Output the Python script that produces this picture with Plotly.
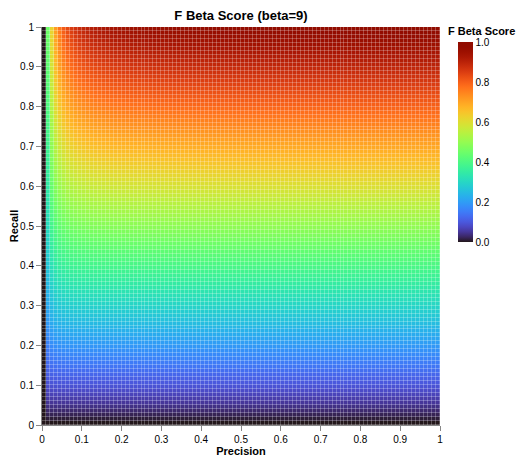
import numpy as np
import plotly.graph_objects as go

beta = 9
precision = [round(i * 0.01, 2) for i in range(100)]
recall = [round(i * 0.01, 2) for i in range(100)]

P = np.array(precision)[None, :]
R = np.array(recall)[:, None]
b2 = beta ** 2
den = b2 * P + R
with np.errstate(divide="ignore", invalid="ignore"):
    F = np.where(den > 0, (1 + b2) * P * R / den, 0.0)

def turbo(t):
    r = 34.61 + t*(1172.33 - t*(10793.56 - t*(33300.12 - t*(38394.49 - t*14825.05))))
    g = 23.31 + t*(557.33 + t*(1225.33 - t*(3574.96 - t*(1073.77 + t*707.56))))
    b = 27.2 + t*(3211.1 - t*(15327.97 - t*(27814 - t*(22569.18 - t*6838.66))))
    c = [int(max(0, min(255, round(v)))) for v in (r, g, b)]
    return "rgb(%d,%d,%d)" % tuple(c)

cscale = [[i / 40, turbo(i / 40)] for i in range(41)]

tickvals = [round(i * 0.1, 1) for i in range(11)]
ticktext = ["0"] + [str(v) for v in tickvals[1:-1]] + ["1"]

W, H = 524, 455
L, T, PW, PH = 34, 19, 398, 398

fig = go.Figure(go.Heatmap(
    x=[p + 0.005 for p in precision], y=[r + 0.005 for r in recall], z=F,
    colorscale=cscale, zmin=0, zmax=1, xgap=0.25, ygap=0.25,
    colorbar=dict(
        x=(450 - L) / PW, xanchor="left", y=1 - (34 - T) / PH, yanchor="top",
        len=200, lenmode="pixels", thickness=15, outlinewidth=0, ypad=0, xpad=0,
        tickvals=[0, 0.2, 0.4, 0.6, 0.8, 1.0],
        ticktext=["0.0", "0.2", "0.4", "0.6", "0.8", "1.0"],
        ticks="", tickfont=dict(size=10),
    ),
))
axis = dict(range=[0, 1], tickvals=tickvals, ticktext=ticktext, ticks="outside",
            ticklen=5, tickcolor="#888", tickfont=dict(size=10), showgrid=False,
            zeroline=False, showline=True, linecolor="#888", linewidth=1, automargin=False)
fig.update_xaxes(**axis, title=dict(text="<b>Precision</b>", font=dict(size=11), standoff=2))
fig.update_yaxes(**axis, title=dict(text="<b>Recall</b>", font=dict(size=11), standoff=8))
fig.add_annotation(text="<b>F Beta Score</b>", xref="paper", yref="paper",
                   x=(438 - L) / PW, y=1 - (23 - T) / PH, xanchor="left", yanchor="middle",
                   showarrow=False, font=dict(size=11))
fig.update_layout(
    width=W, height=H, margin=dict(l=L, r=W - L - PW, t=T, b=H - T - PH, autoexpand=False),
    title=dict(text="<b>F Beta Score (beta=9)</b>", x=(233) / W, xanchor="center",
               y=1 - 7 / H, yanchor="middle", font=dict(size=13)),
    font=dict(family="Liberation Sans, Arial", color="black"),
    plot_bgcolor="white", paper_bgcolor="white",
)
fig.write_html("out.html")
